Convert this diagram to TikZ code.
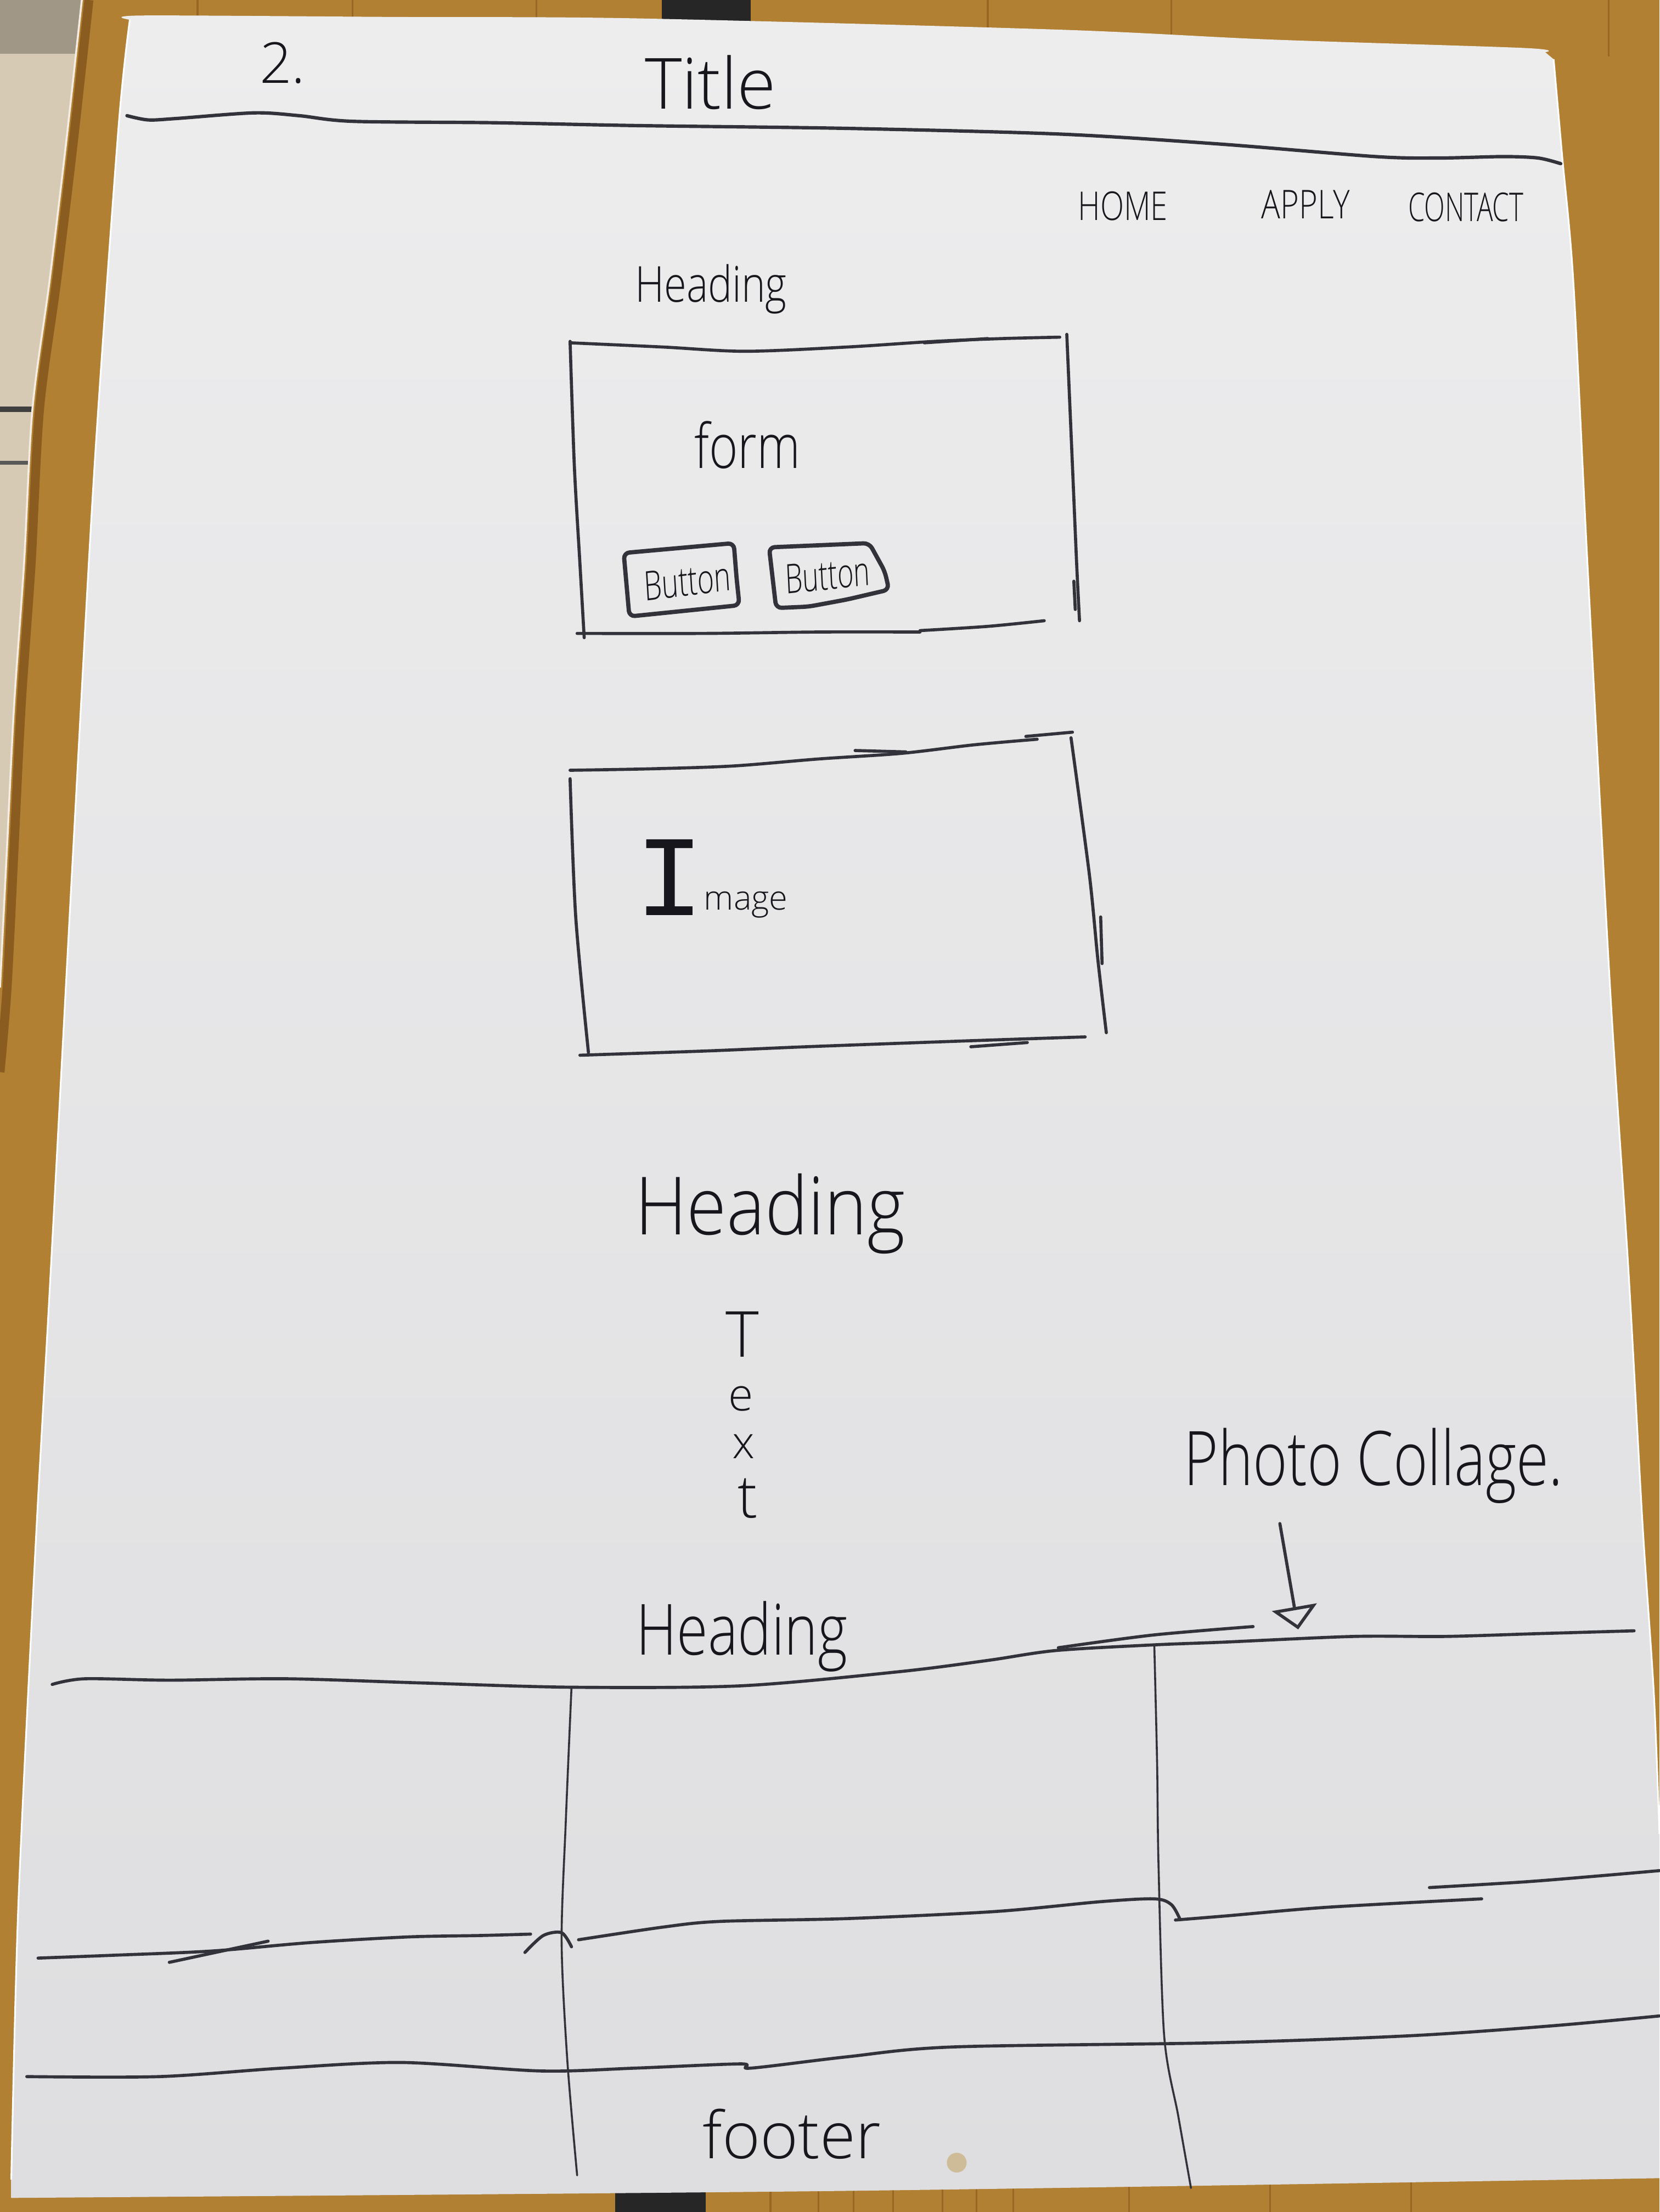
\documentclass[tikz,border=0pt]{standalone}
\usepackage{fontspec}
\setmainfont{Open Sans}[UprightFont={* Light}]
\newfontfamily\monohand{Liberation Mono}
\usetikzlibrary{arrows.meta}
\definecolor{wood}{RGB}{178,128,50}
\definecolor{wooddark}{RGB}{138,92,32}
\definecolor{wall}{RGB}{214,202,180}
\definecolor{paperhi}{RGB}{237,237,238}
\definecolor{paperlo}{RGB}{222,222,224}
\definecolor{inkline}{RGB}{50,50,58}
\definecolor{inktext}{RGB}{22,22,28}
\definecolor{spot}{RGB}{206,188,152}
\newcommand\handfs[1]{\fontsize{#1}{#1}\selectfont}

\begin{document}
\begin{tikzpicture}[x=0.25mm, y=-0.25mm,
  ink/.style={draw=inkline, line width=0.55mm, line cap=round, line join=round},
  inkthin/.style={ink, line width=0.35mm},
  inkbold/.style={ink, line width=0.75mm},
  hand/.style={inner sep=0pt, outer sep=0pt, text=inktext, anchor=base west},
  navitem/.style={hand, font=\handfs{20pt}},
  buttonlabel/.style={hand, font=\handfs{20.5pt}},
  lettering/.style={hand, anchor=base},
]
\useasboundingbox (0,0) rectangle (1176,1568);

% table top
\fill[wood] (0,0) rectangle (1176,1568);
\foreach \gx in {140,250,380,700,830,1140}
  \draw[wooddark!70!wood, line width=0.3mm] (\gx,0) -- (\gx,40);
\foreach \gx in {546,580,605,633,668,692,718,800,900,1000}
  \draw[wooddark!70!wood, line width=0.3mm] (\gx,1540) -- (\gx,1568);
\fill[black!85] (469,0) rectangle (532,16);
\fill[black!85] (436,1548) rectangle (500,1568);

% wall behind the table, top left
\fill[wall] (0,0) -- plot[smooth] coordinates {(58,0) (47,100) (35,200) (23,290) (17,400) (10,500) (5,600) (0,700)} -- cycle;
\begin{scope}
  \clip (0,0) -- plot[smooth] coordinates {(58,0) (47,100) (35,200) (23,290) (17,400) (10,500) (5,600) (0,700)} -- cycle;
  \fill[wall!75!black] (0,0) rectangle (60,38);
  \draw[line width=1mm, black!75] (0,290) -- (60,290);
  \draw[line width=0.7mm, black!65] (0,328) -- (60,328);
\end{scope}
\draw[wooddark, line width=1.6mm] plot[smooth] coordinates {(63,0) (52,100) (40,200) (28,290) (22,400) (15,500) (10,600) (5,700) (0,760)};
\draw[white!85!wood, line width=0.35mm] plot[smooth] coordinates {(58,0) (47,100) (35,200) (23,290) (17,400) (10,500) (5,600) (0,700)};

% sheet of paper
\shade[top color=paperhi, bottom color=paperlo]
  plot[smooth] coordinates {(92,14) (100,11) (278,12) (450,13) (750,21) (900,28) (1080,34) (1095,37)}
  -- plot[smooth] coordinates {(1101,42) (1107,110) (1115,200) (1125,400) (1141,700) (1154,900) (1164,1080) (1172,1200) (1176,1300)}
  -- (1176,1544)
  -- plot[smooth] coordinates {(1176,1544) (600,1553) (8,1558)}
  -- plot[smooth] coordinates {(8,1545) (13,1350) (25,1100) (36,900) (52,600) (67,330) (84,90) (92,14)}
  -- cycle;
\draw[white, line width=0.3mm] plot[smooth] coordinates {(8,1545) (13,1350) (25,1100) (36,900) (52,600) (67,330) (84,90) (92,14)};
\draw[white, line width=0.3mm] plot[smooth] coordinates {(1101,42) (1107,110) (1115,200) (1125,400) (1141,700) (1154,900) (1164,1080) (1172,1200) (1176,1300)};
\fill[spot] (678,1533) circle (7);

% page number, title and header rule
\node[hand, font=\handfs{28.5pt}] (pagenum) at (184,59) {2.};
\node[hand, font=\handfs{35.6pt}] (title) at (457,77) {Title};
\draw[ink, line width=0.6mm] plot[smooth] coordinates {(90,82) (105,85) (125,84) (180,80) (212,82) (250,86) (350,87) (450,89) (600,91) (750,95) (863,102) (975,111) (1020,112) (1065,111) (1090,112) (1106,116)};

% navigation
\node[navitem, xscale=0.78] (navhome) at (764,156) {HOME};
\node[navitem, xscale=0.8] (navapply) at (894,155) {APPLY};
\node[navitem, xscale=0.68] (navcontact) at (998,157) {CONTACT};

% first section: heading and form
\node[hand, font=\handfs{25pt}, xscale=0.82] (headingone) at (450,214) {Heading};
\draw[ink] plot[smooth] coordinates {(404,243) (470,246) (528,249) (600,246) (662,242) (710,240) (751,239)};
\draw[ink] (655,243) -- (700,240);
\draw[ink] plot[smooth] coordinates {(404,242) (407,330) (411,400) (414,452)};
\draw[ink] plot[smooth] coordinates {(756,237) (760,330) (763,400) (765,440)};
\draw[ink] plot[smooth] coordinates {(409,449) (500,449) (580,448) (652,448)};
\draw[ink] plot[smooth] coordinates {(652,447) (700,444) (740,440)};
\draw[ink] (761,412) -- (762,432);
\node[hand, font=\handfs{31pt}, xscale=0.8] (formlabel) at (492,332) {form};

\draw[inkbold, rounded corners=1mm] (442,392) -- (520,385) -- (522,410) -- (524,429) -- (446,437) -- cycle;
\node[buttonlabel, xscale=0.7, rotate=5] (btnone) at (457,426) {Button};
\draw[inkbold, rounded corners=1mm] (545,388) -- (616,385) -- (627,405) -- (630,418) -- (600,425) -- (573,430) -- (550,431) -- cycle;
\node[buttonlabel, xscale=0.68, rotate=4] (btntwo) at (557,421) {Button};

% image placeholder
\draw[ink] plot[smooth] coordinates {(404,546) (460,545) (519,543) (580,538) (639,534) (690,528) (735,524)};
\draw[ink] (606,532) -- (642,533);
\draw[ink] (727,522) -- (760,519);
\draw[ink] plot[smooth] coordinates {(404,552) (408,650) (417,746)};
\draw[ink] plot[smooth] coordinates {(411,748) (500,745) (571,742) (680,738) (769,735)};
\draw[ink] (688,742) -- (728,739);
\draw[ink] plot[smooth] coordinates {(759,523) (772,620) (778,680) (784,732)};
\draw[ink] (780,650) -- (781,683);
\node[hand] (imagelabel) at (450,649) {{\monohand\handfs{58pt}I}\raisebox{1mm}{\handfs{17pt}mage}};

% second section: heading and vertical text
\node[hand, font=\handfs{40.5pt}, xscale=0.9] (headingtwo) at (450,875) {Heading};
\node[lettering, font=\handfs{32pt}] (textT) at (526,962) {T};
\node[lettering, font=\handfs{22.8pt}] (textE) at (525,1000) {e};
\node[lettering, font=\handfs{22.8pt}] (textX) at (527,1034) {x};
\node[lettering, font=\handfs{30pt}] (textTT) at (530,1076) {t};

% photo collage note and arrow
\node[hand, font=\handfs{38pt}, xscale=0.78] (collage) at (839,1053) {Photo Collage.};
\coordinate (arrtop) at (907,1080);
\coordinate (arrtip) at (920,1155);
\draw[ink, -{Triangle[open, length=4mm, width=8mm]}] (arrtop) -- (arrtip);

% third section: heading and collage grid
\node[hand, font=\handfs{35.6pt}, xscale=0.8] (headingthree) at (451,1173) {Heading};
\draw[ink] plot[smooth] coordinates {(37,1194) (60,1190) (120,1191) (203,1190) (300,1193) (405,1196) (525,1195) (637,1185) (700,1177) (748,1170) (817,1166) (868,1164) (959,1160) (1024,1160) (1090,1158) (1158,1156)};
\draw[ink] plot[smooth] coordinates {(750,1168) (817,1159) (888,1153)};

\draw[ink] plot[smooth] coordinates {(27,1388) (80,1386) (150,1383) (220,1377) (289,1373) (340,1372) (376,1371)};
\draw[ink] (120,1391) -- (190,1376);
\draw[ink] plot[smooth] coordinates {(372,1384) (385,1372) (398,1370) (405,1380)};
\draw[ink] plot[smooth] coordinates {(410,1375) (470,1366) (510,1362) (600,1360) (705,1355) (780,1348) (818,1346) (830,1350) (836,1360)};
\draw[ink] plot[smooth] coordinates {(833,1361) (870,1358) (940,1352) (1050,1346)};
\draw[ink] plot[smooth] coordinates {(1013,1338) (1080,1334) (1130,1330) (1176,1326)};

\draw[ink] plot[smooth] coordinates {(19,1472) (113,1472) (200,1466) (285,1462) (383,1468) (450,1466) (525,1463) (532,1466) (600,1458) (675,1451) (863,1448) (1000,1443) (1100,1436) (1176,1429)};

\draw[inkthin] plot[smooth] coordinates {(405,1196) (401,1290) (398,1376) (402,1460) (409,1542)};
\draw[inkthin] plot[smooth] coordinates {(818,1166) (820,1250) (821,1322) (825,1443) (835,1500) (844,1551)};

\node[hand, font=\handfs{32.7pt}] (footer) at (498,1530) {footer};
\end{tikzpicture}
\end{document}
